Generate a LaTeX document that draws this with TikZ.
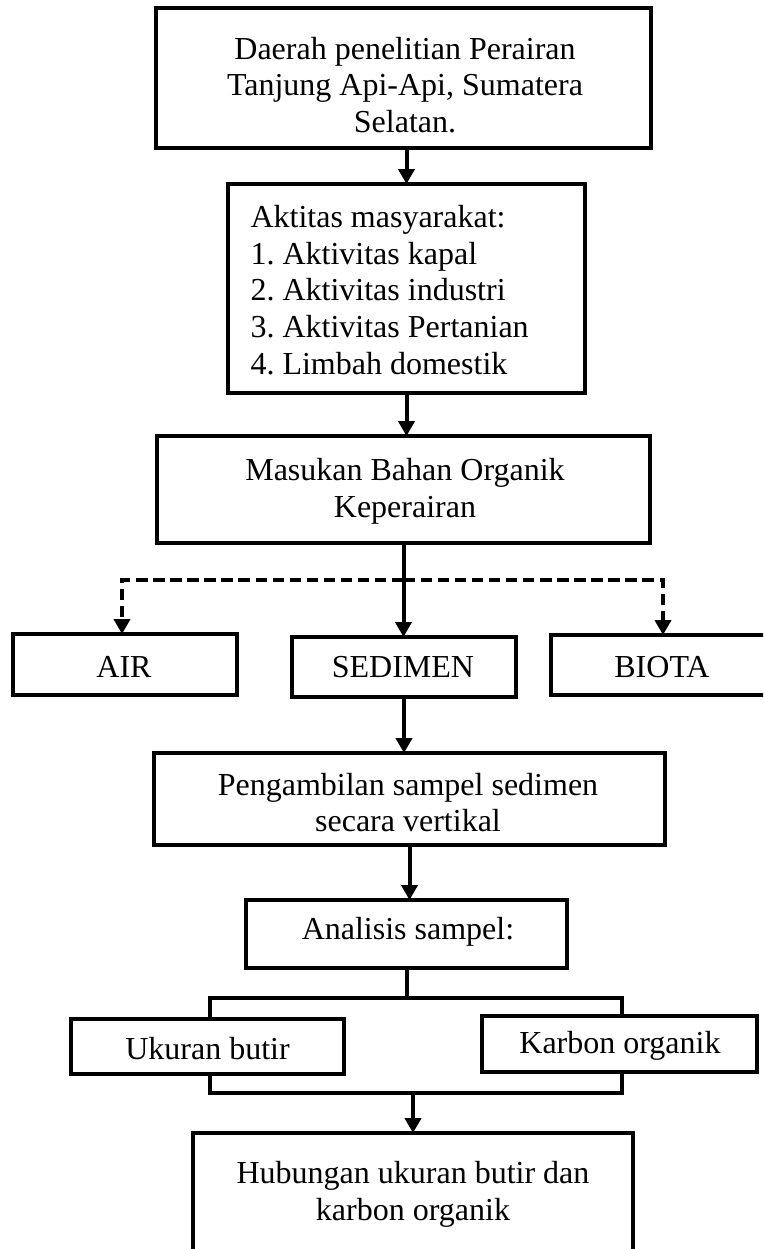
\documentclass[tikz,border=0pt]{standalone}
\usepackage{fontspec}
\setmainfont{Liberation Serif}
\frenchspacing
\usetikzlibrary{arrows.meta}
\tikzset{
  box/.style={draw, line width=1.5pt, rectangle, inner sep=0pt, outer sep=0pt},
  txt/.style={font=\fontsize{12pt}{13.8pt}\selectfont, inner sep=0pt, align=center},
  conn/.style={line width=1.5pt, -{Triangle[length=5.6pt,width=6pt]}},
  plainline/.style={line width=1.5pt},
  dashconn/.style={conn, dash pattern=on 4.3pt off 2.1pt},
}
\newcommand{\mkbox}[5]{\node[box, minimum width={(#4-#2)*0.375pt}, minimum height={(#5-#3)*0.375pt}] (#1) at ({(#2+#4)/2},{(#3+#5)/2}) {};}
\begin{document}
\begin{tikzpicture}[x=0.375pt,y=-0.375pt]
\useasboundingbox (0,0) rectangle (763,1249);
\clip (0,0) rectangle (763,1249);
\fill[white] (0,0) rectangle (763,1249);
% boxes
\mkbox{A}{156}{8}{651}{148}
\mkbox{B}{228}{184}{585}{393}
\mkbox{C}{157}{436}{650}{543}
\mkbox{AIR}{13}{634}{237}{695}
\mkbox{SED}{292}{637}{516}{697}
\mkbox{BIO}{551}{635}{800}{695}
\mkbox{PENG}{154}{753}{665}{845}
\mkbox{ANA}{246}{900}{567}{968}
\mkbox{UK}{71}{1019}{344}{1074}
\mkbox{KAR}{482}{1016}{757}{1072}
\mkbox{HUB}{193}{1133}{633}{1320}
% texts
\node[txt] (tA) at (405,85) {Daerah penelitian Perairan\\Tanjung Api-Api, Sumatera\\Selatan.};
\node[txt, align=left, anchor=west] (tB) at (250,290) {Aktitas masyarakat:\\1. Aktivitas kapal\\2. Aktivitas industri\\3. Aktivitas Pertanian\\4. Limbah domestik};
\node[txt] (tC) at (405,491.5) {Masukan Bahan Organik\\Keperairan};
\node[txt] (tAIR) at (124,667) {AIR};
\node[txt] (tSED) at (403,667) {SEDIMEN};
\node[txt] (tBIO) at (662,667) {BIOTA};
\node[txt] (tPENG) at (408,802.5) {Pengambilan sampel sedimen\\secara vertikal};
\node[txt] (tANA) at (408,932) {Analisis sampel:};
\node[txt] (tUK) at (207.5,1049) {Ukuran butir};
\node[txt] (tKAR) at (620,1046) {Karbon organik};
\node[txt] (tHUB) at (413,1194) {Hubungan ukuran butir dan\\karbon organik};
% connectors
\draw[conn] (A.south -| B.north) -- (B.north);
\draw[conn] (B.south) -- (B.south |- C.north);
\draw[conn] (C.south) -- (C.south |- SED.north);
\coordinate (J) at (403.5,580);
\draw[dashconn] (J) -| ([xshift=-3*0.375pt]AIR.north);
\draw[dashconn] (J) -| ([xshift=112*0.375pt]BIO.north west);
\draw[conn] (SED.south) -- (SED.south |- PENG.north);
\draw[conn] (PENG.south) -- (PENG.south |- ANA.north);
\coordinate (TB) at (406.5,998);
\draw[plainline] (ANA.south) -- (TB);
\draw[plainline] ([xshift=2*0.375pt]UK.north) -- ([xshift=2*0.375pt]UK.north |- TB) -- ([xshift=2*0.375pt]KAR.north |- TB) -- ([xshift=2*0.375pt]KAR.north);
\coordinate (BB) at (413,1093);
\draw[plainline] ([xshift=2*0.375pt]UK.south) -- ([xshift=2*0.375pt]UK.south |- BB) -- ([xshift=2*0.375pt]KAR.south |- BB) -- ([xshift=2*0.375pt]KAR.south);
\draw[conn] (BB) -- (BB |- HUB.north);
\end{tikzpicture}
\end{document}
